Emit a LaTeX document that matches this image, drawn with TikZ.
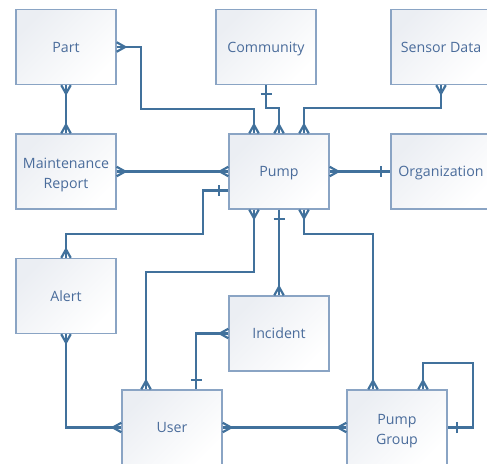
\documentclass[tikz,border=0pt]{standalone}
\usepackage{fontspec}
\setmainfont{Open Sans}
\usetikzlibrary{arrows.meta,calc}
\definecolor{lineblue}{HTML}{41719C}
\definecolor{boxline}{HTML}{8AA4C4}
\definecolor{boxgray}{HTML}{EBEEF3}
\definecolor{textblue}{HTML}{4A6C9B}

\pgfdeclarearrow{
  name = CrowFoot,
  parameters = {\the\pgfarrowlength,\the\pgfarrowwidth},
  setup code = {
    \pgfarrowssettipend{0pt}
    \pgfarrowssetlineend{0pt}
    \pgfarrowssetbackend{-\pgfarrowlength}
    \pgfarrowssetvisualbackend{-\pgfarrowlength}
    \pgfarrowshullpoint{0pt}{.5\pgfarrowwidth}
    \pgfarrowshullpoint{0pt}{-.5\pgfarrowwidth}
    \pgfarrowshullpoint{-\pgfarrowlength}{0pt}
    \pgfarrowssavethe\pgfarrowlength
    \pgfarrowssavethe\pgfarrowwidth
  },
  drawing code = {
    \pgfsetroundjoin
    \pgfpathmoveto{\pgfqpoint{0pt}{.5\pgfarrowwidth}}
    \pgfpathlineto{\pgfqpoint{-\pgfarrowlength}{0pt}}
    \pgfpathlineto{\pgfqpoint{0pt}{-.5\pgfarrowwidth}}
    \pgfusepathqstroke
  },
  defaults = {length = 8.5pt, width = 9.5pt}
}

\pgfdeclarearrow{
  name = OneBar,
  parameters = {\the\pgfarrowlength,\the\pgfarrowwidth},
  setup code = {
    \pgfarrowssettipend{0pt}
    \pgfarrowssetlineend{0pt}
    \pgfarrowssetbackend{-\pgfarrowlength}
    \pgfarrowssetvisualbackend{-\pgfarrowlength}
    \pgfarrowshullpoint{0pt}{.5\pgfarrowwidth}
    \pgfarrowshullpoint{0pt}{-.5\pgfarrowwidth}
    \pgfarrowshullpoint{-\pgfarrowlength}{.5\pgfarrowwidth}
    \pgfarrowshullpoint{-\pgfarrowlength}{-.5\pgfarrowwidth}
    \pgfarrowssavethe\pgfarrowlength
    \pgfarrowssavethe\pgfarrowwidth
  },
  drawing code = {
    \pgfpathmoveto{\pgfqpoint{-\pgfarrowlength}{.5\pgfarrowwidth}}
    \pgfpathlineto{\pgfqpoint{-\pgfarrowlength}{-.5\pgfarrowwidth}}
    \pgfusepathqstroke
  },
  defaults = {length = 9pt, width = 11pt}
}

\begin{document}
\begin{tikzpicture}[x=1pt,y=-1pt,
  entity/.style={draw=boxline, line width=1.3pt, top color=boxgray, bottom color=white,
    shading angle=45, minimum width=100pt, minimum height=75pt, inner sep=0pt,
    align=center, text=textblue, font=\fontsize{14.2}{20}\selectfont},
  oneline/.style={text height=10pt, text depth=0pt},
  conn/.style={draw=lineblue, line width=2.2pt},
  mm/.style={conn, {CrowFoot}-{CrowFoot}},
  om/.style={conn, {OneBar}-{CrowFoot}},
  mo/.style={conn, {CrowFoot}-{OneBar}}]
\clip (0,0) rectangle (487,463);

% entities
\node[entity, oneline] (part) at (66,47) {Part};
\node[entity, oneline] (comm) at (266,47) {Community};
\node[entity, oneline] (sens) at (441,47) {Sensor Data};
\node[entity] (mr) at (66,171.5) {\rule{0pt}{16.5pt}Maintenance\\Report};
\node[entity, oneline] (pump) at (279,171.5) {Pump};
\node[entity, oneline] (org) at (441,171.5) {Organization};
\node[entity, oneline] (alert) at (66,296) {Alert};
\node[entity, oneline] (inc) at (279,333.5) {Incident};
\node[entity, oneline] (user) at (172,427.5) {User};
\node[entity] (pg) at (397,427.5) {\rule{0pt}{16.5pt}Pump\\Group};

% connectors
\draw[mm] (part.east) -| (141,109) -| ($(pump.north)+(-25,0)$);
\draw[om] (comm.south) |- ($(pump.north)+(0,-25)$) -- (pump.north);
\draw[mm] (sens.south) |- ($(pump.north)+(25,-25)$) -- ($(pump.north)+(25,0)$);
\draw[mm] (part.south) -- (mr.north);
\draw[mm] (mr.east) -- (pump.west);
\draw[mo] (pump.east) -- (org.west);
\draw[om] ($(pump.west)+(0,19)$) -| (203,234) -| (alert.north);
\draw[mm] ($(pump.south)+(-25,0)$) -- ++(0,62) -| ($(user.north)+(-26,0)$);
\draw[om] (pump.south) -- (inc.north);
\draw[mm] ($(pump.south)+(25,0)$) -- ++(0,24) -| ($(pg.north)+(-24,0)$);
\draw[mo] (inc.west) -| ($(user.north)+(24,0)$);
\draw[mm] (alert.south) |- (user.west);
\draw[mm] (user.east) -- (pg.west);
\draw[mo] ($(pg.north)+(26,0)$) -- ++(0,-26) -| ($(pg.east)+(25,0)$) -- (pg.east);
\end{tikzpicture}
\end{document}
